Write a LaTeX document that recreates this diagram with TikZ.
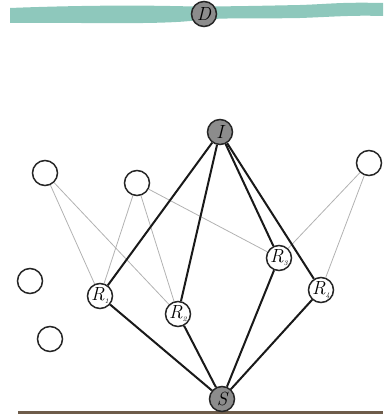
\documentclass[tikz,border=0pt]{standalone}
\usepackage{fontspec}
\begin{document}
\begin{tikzpicture}[x=1pt,y=-1pt,
  vtx/.style={circle, draw=black!85, line width=1.5pt, fill=white, minimum size=25pt, inner sep=0pt,
    font=\fontsize{19}{19}\selectfont\itshape},
  dark/.style={vtx, fill=black!45},
  strong/.style={line width=2pt, black!90},
  weak/.style={line width=0.8pt, black!30}]
\useasboundingbox (0,0) rectangle (383,414);
\definecolor{teal1}{RGB}{142,200,188}
\definecolor{brown1}{RGB}{110,92,74}
% teal band
\fill[teal1] (10,8) .. controls (60,6) and (120,5) .. (170,6)
  .. controls (210,7) and (250,6) .. (300,5)
  .. controls (330,4) and (340,2) .. (383,3)
  -- (383,16) .. controls (350,15) and (330,17) .. (300,18)
  .. controls (250,19) and (220,17) .. (190,21)
  .. controls (150,25) and (60,22) .. (10,23) -- cycle;
% bottom band
\fill[brown1] (18,411) rectangle (383,414);
% nodes
\node[dark] (D) at (204,14) {D};
\node[dark] (I) at (220,132) {I};
\node[dark] (S) at (222,399) {S};
\node[vtx] (R1) at (100,296) {R\raisebox{-3pt}{\fontsize{7}{7}\selectfont 1}};
\node[vtx] (R2) at (178,314) {R\raisebox{-3pt}{\fontsize{7}{7}\selectfont 2}};
\node[vtx] (R3) at (279,258) {R\raisebox{-3pt}{\fontsize{7}{7}\selectfont 3}};
\node[vtx] (R4) at (321,290) {R\raisebox{-3pt}{\fontsize{7}{7}\selectfont 4}};
\node[vtx] (A1) at (45,173) {};
\node[vtx] (A2) at (137,183) {};
\node[vtx] (A3) at (369,163) {};
\node[vtx] (A4) at (30,281) {};
\node[vtx] (A5) at (50,339) {};
% weak edges
\draw[weak] (A1) -- (R1);
\draw[weak] (A1) -- (R2);
\draw[weak] (A2) -- (R1);
\draw[weak] (A2) -- (R2);
\draw[weak] (A2) -- (R3);
\draw[weak] (A3) -- (R3);
\draw[weak] (A3) -- (R4);
% strong edges
\foreach \r in {R1,R2,R3,R4} {
  \draw[strong] (I) -- (\r);
  \draw[strong] (\r) -- (S);
}
\end{tikzpicture}
\end{document}
